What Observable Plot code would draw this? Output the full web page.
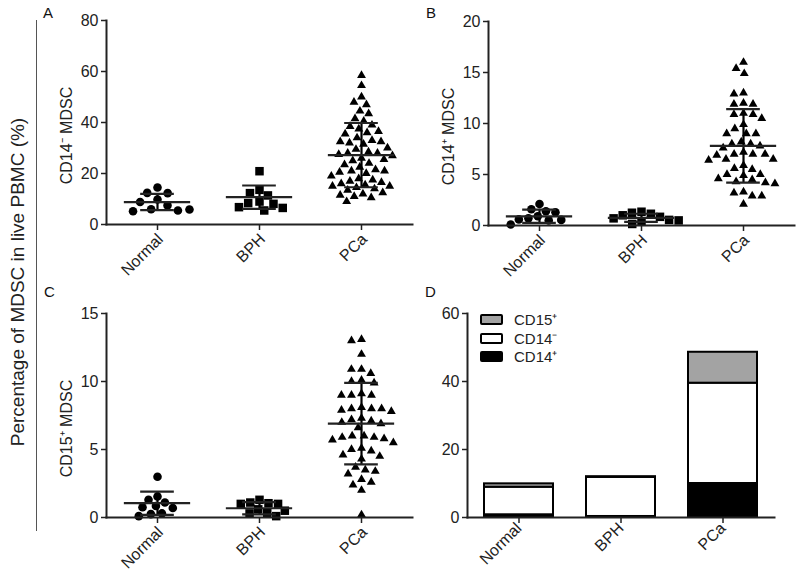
<!DOCTYPE html>
<html>
<head>
<meta charset="utf-8">
<script src="https://cdn.jsdelivr.net/npm/d3@7"></script>
<script src="https://cdn.jsdelivr.net/npm/@observablehq/plot@0.6"></script>
<style>
  body { margin: 0; background: #fff; font-family: "Liberation Sans", Arial, Helvetica, sans-serif; }
  #wrap { position: relative; width: 800px; height: 586px; overflow: hidden; background: #fff; color: #222; }
  .panel { position: absolute; }
  .letter { position: absolute; font-size: 15px; line-height: 1; color: #111; }
  #ylab { position: absolute; left: -182px; top: 271px; width: 400px; height: 22px; line-height: 22px;
          text-align: center; font-size: 19px; transform: rotate(-90deg); transform-origin: 50% 50%; color: #222; }
  #vline { position: absolute; left: 36px; top: 20px; width: 1px; height: 511px; background: #555; }
  .legend { position: absolute; font-size: 15px; color: #222; }
  .lrow { position: absolute; left: 0; height: 18px; white-space: nowrap; }
  .sw { position: absolute; left: 0; top: 3px; width: 23px; height: 11px; box-sizing: border-box; border: 2px solid #000; border-radius: 2px; }
  .lt { position: absolute; left: 34px; top: 0; line-height: 18px; }
</style>
</head>
<body>
<div id="wrap">
  <div id="vline"></div>
  <div id="ylab">Percentage of MDSC in live PBMC (%)</div>
  <div class="letter" style="left:43px;top:5px">A</div>
  <div class="letter" style="left:426px;top:5px">B</div>
  <div class="letter" style="left:44px;top:284px">C</div>
  <div class="letter" style="left:425px;top:284px">D</div>
</div>
<script>
const groups = ["Normal", "BPH", "PCa"];

// Panel A: CD14⁻ MDSC
const aTitle = "CD14⁻ MDSC";
const aNormal = [14.5, 12.4, 12.3, 9.8, 8.8, 7.5, 6.0, 5.5, 5.2, 5.9];
const aBPH = [20.9, 13.6, 12.3, 11.4, 9.0, 8.4, 8.1, 6.8, 6.5, 5.5];
const aPCa = [58.5, 54.5, 50.0, 48.0, 47.0, 44.5, 43.5, 41.5, 40.5, 39.0, 38.5, 37.5, 36.5, 36.0, 35.5,
              34.0, 33.0, 32.5, 32.5, 32.0, 31.5, 30.0, 29.5, 28.5, 28.0, 28.0, 27.5, 27.0, 26.0, 25.5,
              25.0, 24.0, 23.5, 22.5, 21.5, 21.0, 21.0, 20.5, 20.0, 19.0, 18.0, 17.5, 17.0, 16.5, 16.0,
              15.5, 15.0, 15.0, 14.5, 14.0, 13.5, 12.5, 12.0, 11.5, 11.0, 10.5, 9.0];
const aMean = [8.8, 10.7, 27.2];
const aSD = [3.2, 4.6, 12.6];
const aTicks = [0, 20, 40, 60, 80];

// Panel B: CD14⁺ MDSC
const bTitle = "CD14⁺ MDSC";
const bNormal = [2.1, 1.6, 1.4, 1.3, 0.9, 0.7, 0.6, 0.55, 0.5, 0.1];
const bBPH = [1.35, 1.25, 1.15, 1.0, 0.85, 0.7, 0.55, 0.5, 0.4, 0.15];
const bPCa = [16.0, 15.4, 14.9, 13.0, 12.9, 12.0, 11.9, 11.9, 11.0, 10.9, 10.9, 10.5, 9.9, 9.5, 9.0,
              9.0, 9.0, 8.2, 8.0, 8.0, 7.8, 7.6, 7.2, 7.0, 7.0, 7.0, 6.9, 6.5, 6.5, 6.4,
              5.9, 5.6, 5.5, 5.0, 5.0, 4.9, 4.6, 4.5, 4.3, 4.2, 4.1, 3.3, 3.2, 2.9, 2.9, 2.1];
const bMean = [0.9, 0.75, 7.8];
const bSD = [0.65, 0.4, 3.6];
const bTicks = [0, 5, 10, 15, 20];

// Panel C: CD15⁺ MDSC
const cTitle = "CD15⁺ MDSC";
const cNormal = [3.0, 1.55, 1.3, 1.1, 0.85, 0.75, 0.7, 0.3, 0.25, 0.1];
const cBPH = [1.3, 1.1, 1.05, 1.0, 1.0, 0.6, 0.5, 0.35, 0.3, 0.1];
const cPCa = [13.1, 13.0, 12.0, 10.9, 10.9, 10.6, 10.1, 10.0, 9.9, 9.1, 9.0, 9.0, 9.0, 8.1, 8.0,
              8.0, 8.0, 7.9, 7.8, 7.3, 7.2, 7.1, 7.0, 6.9, 6.6, 6.0, 6.0, 5.9, 5.9, 5.8,
              5.7, 5.5, 5.1, 5.0, 4.9, 4.6, 4.5, 4.3, 3.7, 3.5, 3.4, 3.2, 2.8, 2.6, 2.4, 2.0, 0.2];
const cMean = [1.05, 0.68, 6.9];
const cSD = [0.85, 0.45, 3.0];
const cTicks = [0, 5, 10, 15];

// Panel D: stacked means (bottom to top)
const dSubsets = ["CD14⁺", "CD14⁻", "CD15⁺"];
const dNormal = [0.8, 8.1, 1.0];
const dBPH = [0.3, 11.5, 0.2];
const dPCa = [10.0, 29.5, 9.1];
const dColors = ["#000000", "#ffffff", "#a3a3a3"];
const dTicks = [0, 20, 40, 60];

const FONT = '"Liberation Sans", Arial, Helvetica, sans-serif';
const shapes = [
  {symbol: "circle", r: 4.3},
  {symbol: "square", r: 4.8},
  {symbol: "triangle", r: 3.3}
];
const baseStyle = {fontFamily: FONT, fontSize: "16px", color: "#222", background: "transparent", overflow: "visible"};

// spacing between swarm symbols (per group), a layout style option
function scatterPanel(series, mean, sd, yTicks, title, spacing) {
  const stats = groups.map((g, i) => ({group: g, center: 0, mean: mean[i], lo: mean[i] - sd[i], hi: mean[i] + sd[i]}));
  const dotMarks = groups.map((g, i) =>
    Plot.dot(series[i].map(v => ({group: g, value: v})),
      Plot.dodgeX({anchor: "middle", padding: spacing[i]},
                  {fx: "group", y: "value", symbol: shapes[i].symbol, r: shapes[i].r, fill: "#000", stroke: "none"})));
  return Plot.plot({
    width: 372, height: 278,
    marginLeft: 60, marginRight: 5, marginTop: 12, marginBottom: 62,
    style: baseStyle,
    fx: {domain: groups, padding: 0},
    x: {domain: [-0.5, 0.5], axis: null},
    y: {domain: [0, yTicks[yTicks.length - 1]]},
    marks: [
      ...dotMarks,
      Plot.link(stats, {fx: "group", x1: "center", x2: "center", y1: "lo", y2: "hi", strokeWidth: 2.2, stroke: "#000"}),
      Plot.ruleY(stats, {fx: "group", y: "mean", x1: -0.325, x2: 0.325, strokeWidth: 2.2}),
      Plot.ruleY(stats, {fx: "group", y: "hi", x1: -0.165, x2: 0.165, strokeWidth: 2.2}),
      Plot.ruleY(stats, {fx: "group", y: "lo", x1: -0.165, x2: 0.165, strokeWidth: 2.2}),
      Plot.axisY({ticks: yTicks, tickSize: 5, tickPadding: 3, label: null, fontSize: 16, strokeWidth: 1.5}),
      // category tick marks (labels drawn rotated below)
      Plot.axisFx({anchor: "bottom", tickSize: 6, tickFormat: () => "", label: null, strokeWidth: 1.5}),
      Plot.text(stats, {fx: "group", x: "center", text: "group", frameAnchor: "bottom", rotate: -45,
                        textAnchor: "end", lineAnchor: "middle", dy: 12, dx: 3, fontSize: 16, fill: "#222"}),
      Plot.frame({anchor: "left", facet: "super", strokeWidth: 2}),
      Plot.frame({anchor: "bottom", facet: "super", strokeWidth: 2}),
      Plot.text([title], {frameAnchor: "left", facet: "super", rotate: -90, dx: -40, dy: 13,
                          fontSize: 16, textAnchor: "middle", lineAnchor: "middle", fill: "#222"})
    ]
  });
}

function barPanel() {
  const rows = [];
  [dNormal, dBPH, dPCa].forEach((vals, i) =>
    vals.forEach((v, j) => rows.push({group: groups[i], subset: dSubsets[j], value: v})));
  return Plot.plot({
    width: 372, height: 278,
    marginLeft: 60, marginRight: 5, marginTop: 12, marginBottom: 62,
    style: baseStyle,
    x: {domain: groups, paddingInner: 0.32, paddingOuter: 0.16},
    y: {domain: [0, 60]},
    color: {domain: dSubsets, range: dColors},
    marks: [
      Plot.barY(rows, {x: "group", y: "value", fill: "subset", stroke: "#000", strokeWidth: 2}),
      Plot.axisY({ticks: dTicks, tickSize: 5, tickPadding: 3, label: null, fontSize: 16, strokeWidth: 1.5}),
      Plot.axisX({tickSize: 6, tickPadding: 2, tickRotate: -45, fontSize: 16, label: null, strokeWidth: 1.5}),
      Plot.frame({anchor: "left", strokeWidth: 2}),
      Plot.frame({anchor: "bottom", strokeWidth: 2})
    ]
  });
}

const wrap = document.getElementById("wrap");
function place(el, left, top) {
  el.classList.add("panel");
  el.style.left = left + "px";
  el.style.top = top + "px";
  wrap.appendChild(el);
}
place(scatterPanel([aNormal, aBPH, aPCa], aMean, aSD, aTicks, aTitle, [3, 0.5, 2.5]), 45, 8);
place(scatterPanel([bNormal, bBPH, bPCa], bMean, bSD, bTicks, bTitle, [1, 0, 3]), 427, 9);
place(scatterPanel([cNormal, cBPH, cPCa], cMean, cSD, cTicks, cTitle, [1, 0, 3.5]), 45, 301);
place(barPanel(), 407, 301);

// Legend for panel D (top to bottom: CD15⁺, CD14⁻, CD14⁺)
const legend = document.createElement("div");
legend.className = "legend";
legend.style.left = "480px";
legend.style.top = "311px";
[2, 1, 0].forEach((j, k) => {
  const row = document.createElement("div");
  row.className = "lrow";
  row.style.top = (k * 18.5) + "px";
  const sw = document.createElement("div");
  sw.className = "sw";
  sw.style.background = dColors[j];
  const t = document.createElement("div");
  t.className = "lt";
  t.textContent = dSubsets[j];
  row.appendChild(sw); row.appendChild(t);
  legend.appendChild(row);
});
wrap.appendChild(legend);
</script>
</body>
</html>
